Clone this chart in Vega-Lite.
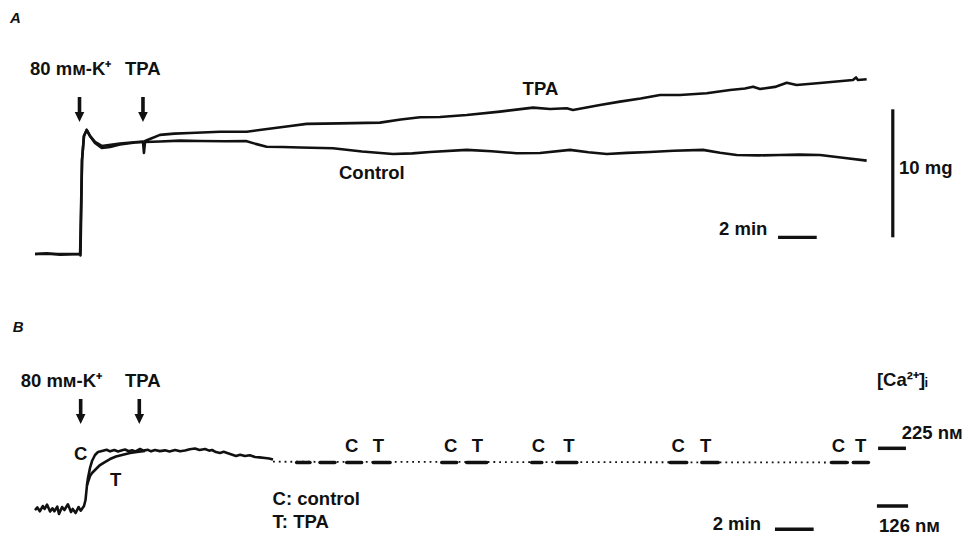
{
"$schema":"https://vega.github.io/schema/vega-lite/v6.json",
"width":968,"height":539,"padding":0,
"autosize":{"type":"none"},
"background":"#ffffff",
"config":{"view":{"stroke":null},"text":{"font":"Liberation Sans","fontSize":18.5,"fontWeight":"bold","color":"#111111"}},
"datasets":{
"aTraces":[
{"series":"Control","t":0,"v":0},{"series":"Control","t":0.6,"v":0.05},{"series":"Control","t":1.29,"v":-0.05},{"series":"Control","t":2.33,"v":0},{"series":"Control","t":2.35,"v":-0.12},{"series":"Control","t":2.43,"v":7.34},{"series":"Control","t":2.53,"v":9.22},{"series":"Control","t":2.67,"v":9.69},{"series":"Control","t":2.84,"v":9.22},{"series":"Control","t":3.10,"v":8.67},{"series":"Control","t":3.45,"v":8.28},{"series":"Control","t":3.88,"v":8.36},{"series":"Control","t":4.39,"v":8.55},{"series":"Control","t":5.17,"v":8.71},{"series":"Control","t":5.69,"v":8.75},{"series":"Control","t":6.46,"v":8.79},{"series":"Control","t":7.5,"v":8.85},{"series":"Control","t":8.53,"v":8.83},{"series":"Control","t":9.8,"v":8.8},{"series":"Control","t":10.90,"v":8.83},{"series":"Control","t":11.4,"v":8.6},{"series":"Control","t":11.97,"v":8.38},{"series":"Control","t":12.8,"v":8.36},{"series":"Control","t":13.70,"v":8.32},{"series":"Control","t":15.40,"v":8.26},{"series":"Control","t":16.9,"v":8.0},{"series":"Control","t":18.50,"v":7.81},{"series":"Control","t":19.5,"v":7.86},{"series":"Control","t":20.41,"v":7.97},{"series":"Control","t":22.31,"v":8.13},{"series":"Control","t":23.6,"v":8.02},{"series":"Control","t":24.89,"v":7.87},{"series":"Control","t":26.10,"v":7.89},{"series":"Control","t":27.65,"v":8.13},{"series":"Control","t":28.6,"v":7.95},{"series":"Control","t":29.55,"v":7.81},{"series":"Control","t":30.6,"v":7.9},{"series":"Control","t":31.78,"v":7.97},{"series":"Control","t":33.0,"v":8.06},{"series":"Control","t":34.52,"v":8.13},{"series":"Control","t":35.4,"v":7.9},{"series":"Control","t":36.26,"v":7.73},{"series":"Control","t":37.4,"v":7.7},{"series":"Control","t":38.50,"v":7.73},{"series":"Control","t":39.5,"v":7.76},{"series":"Control","t":40.57,"v":7.73},{"series":"Control","t":41.86,"v":7.5},{"series":"Control","t":42.98,"v":7.29},
{"series":"TPA","t":0,"v":0},{"series":"TPA","t":1.29,"v":0},{"series":"TPA","t":2.33,"v":0},{"series":"TPA","t":2.43,"v":7.34},{"series":"TPA","t":2.53,"v":9.22},{"series":"TPA","t":2.67,"v":9.69},{"series":"TPA","t":2.84,"v":9.22},{"series":"TPA","t":3.10,"v":8.75},{"series":"TPA","t":3.45,"v":8.44},{"series":"TPA","t":4.39,"v":8.63},{"series":"TPA","t":5.58,"v":8.79},{"series":"TPA","t":5.63,"v":7.89},{"series":"TPA","t":5.69,"v":8.83},{"series":"TPA","t":5.94,"v":8.98},{"series":"TPA","t":6.46,"v":9.30},{"series":"TPA","t":7.2,"v":9.4},{"series":"TPA","t":8.01,"v":9.45},{"series":"TPA","t":9.56,"v":9.55},{"series":"TPA","t":10.94,"v":9.55},{"series":"TPA","t":11.7,"v":9.7},{"series":"TPA","t":12.40,"v":9.84},{"series":"TPA","t":13.2,"v":10.0},{"series":"TPA","t":14.04,"v":10.16},{"series":"TPA","t":15.76,"v":10.20},{"series":"TPA","t":17.83,"v":10.26},{"series":"TPA","t":18.9,"v":10.5},{"series":"TPA","t":19.90,"v":10.68},{"series":"TPA","t":20.93,"v":10.70},{"series":"TPA","t":22.31,"v":10.86},{"series":"TPA","t":24.03,"v":11.12},{"series":"TPA","t":25.74,"v":11.43},{"series":"TPA","t":26.62,"v":11.33},{"series":"TPA","t":27.48,"v":11.38},{"series":"TPA","t":27.80,"v":11.25},{"series":"TPA","t":29.20,"v":11.64},{"series":"TPA","t":30.23,"v":11.90},{"series":"TPA","t":31.3,"v":12.15},{"series":"TPA","t":32.30,"v":12.42},{"series":"TPA","t":33.33,"v":12.42},{"series":"TPA","t":34.71,"v":12.55},{"series":"TPA","t":35.92,"v":12.81},{"series":"TPA","t":36.69,"v":12.93},{"series":"TPA","t":37.11,"v":13.07},{"series":"TPA","t":37.47,"v":12.89},{"series":"TPA","t":38.24,"v":13.05},{"series":"TPA","t":38.85,"v":13.38},{"series":"TPA","t":39.36,"v":13.20},{"series":"TPA","t":40.57,"v":13.36},{"series":"TPA","t":42.27,"v":13.59},{"series":"TPA","t":42.43,"v":13.79},{"series":"TPA","t":42.53,"v":13.59},{"series":"TPA","t":42.98,"v":13.65}
],
"aArrows":[{"t":2.30,"v":10.31},{"t":5.58,"v":10.31}],
"aBars":[{"t":38.40,"t2":40.40,"v":1.30,"v2":1.30},{"t":44.33,"t2":44.33,"v":1.30,"v2":11.30}],
"aTexts":[
{"label":"80 mм-K⁺","t":-0.26,"v":13.98},{"label":"TPA","t":4.65,"v":13.98},{"label":"TPA","t":25.20,"v":12.42},{"label":"Control","t":15.71,"v":5.84},{"label":"10 mg","t":44.65,"v":6.25},{"label":"2 min","t":35.35,"v":1.48}
],
"aPanel":[{"label":"A","t":-1.29,"v":18.05}],
"bTraces":[
{"series":"C","t":0,"v":119.1},{"series":"C","t":0.12,"v":123.5},{"series":"C","t":0.25,"v":117.0},{"series":"C","t":0.4,"v":126.0},{"series":"C","t":0.5,"v":121.0},{"series":"C","t":0.62,"v":128.5},{"series":"C","t":0.78,"v":116.5},{"series":"C","t":0.9,"v":122.0},{"series":"C","t":1.0,"v":117.0},{"series":"C","t":1.15,"v":125.0},{"series":"C","t":1.24,"v":112.3},{"series":"C","t":1.4,"v":124.3},{"series":"C","t":1.52,"v":119.1},{"series":"C","t":1.7,"v":129.0},{"series":"C","t":1.86,"v":115.7},{"series":"C","t":1.95,"v":121.0},{"series":"C","t":2.1,"v":114.0},{"series":"C","t":2.25,"v":124.3},{"series":"C","t":2.36,"v":118.0},{"series":"C","t":2.532,"v":126.0},{"series":"C","t":2.61,"v":136.3},{"series":"C","t":2.687,"v":162.0},{"series":"C","t":2.739,"v":174.0},{"series":"C","t":2.842,"v":191.2},{"series":"C","t":2.946,"v":203.2},{"series":"C","t":3.101,"v":213.5},{"series":"C","t":3.256,"v":218.7},{"series":"C","t":3.46,"v":220.4},{"series":"C","t":3.7,"v":222.5},{"series":"C","t":3.88,"v":219.8},{"series":"C","t":4.1,"v":222.0},{"series":"C","t":4.29,"v":219.5},{"series":"C","t":4.5,"v":221.8},{"series":"C","t":4.65,"v":222.9},{"series":"C","t":4.85,"v":220.0},{"series":"C","t":5.01,"v":221.5},{"series":"C","t":5.2,"v":219.6},{"series":"C","t":5.43,"v":223.8},{"series":"C","t":5.6,"v":221.0},{"series":"C","t":5.84,"v":222.4},{"series":"C","t":6.0,"v":219.8},{"series":"C","t":6.2,"v":222.1},{"series":"C","t":6.45,"v":220.2},{"series":"C","t":6.72,"v":221.5},{"series":"C","t":6.95,"v":219.5},{"series":"C","t":7.24,"v":222.1},{"series":"C","t":7.5,"v":220.0},{"series":"C","t":7.75,"v":221.4},{"series":"C","t":8.0,"v":223.5},{"series":"C","t":8.27,"v":224.7},{"series":"C","t":8.5,"v":222.0},{"series":"C","t":8.79,"v":223.8},{"series":"C","t":9.0,"v":221.0},{"series":"C","t":9.15,"v":222.1},{"series":"C","t":9.35,"v":218.5},{"series":"C","t":9.56,"v":216.9},{"series":"C","t":9.75,"v":219.0},{"series":"C","t":9.97,"v":216.5},{"series":"C","t":10.2,"v":214.0},{"series":"C","t":10.39,"v":211.8},{"series":"C","t":10.6,"v":214.0},{"series":"C","t":10.85,"v":211.8},{"series":"C","t":11.1,"v":213.0},{"series":"C","t":11.37,"v":210.1},{"series":"C","t":11.6,"v":209.5},{"series":"C","t":11.89,"v":208.4},{"series":"C","t":12.1,"v":207.5},{"series":"C","t":12.3,"v":205.8},
{"series":"T","t":2.687,"v":162.0},{"series":"T","t":2.842,"v":177.5},{"series":"T","t":2.946,"v":182.6},{"series":"T","t":3.152,"v":189.5},{"series":"T","t":3.359,"v":196.3},{"series":"T","t":3.566,"v":200.6},{"series":"T","t":3.876,"v":206.6},{"series":"T","t":4.186,"v":210.9},{"series":"T","t":4.496,"v":213.5},{"series":"T","t":4.91,"v":216.9},{"series":"T","t":5.271,"v":218.7},{"series":"T","t":5.685,"v":220.4}
],
"bDotted":[{"t":12.3,"v":202.0},{"t":42.95,"v":200.6}],
"bSegments":[
{"t":13.52,"t2":14.21,"v":200.6},{"t":14.73,"t2":15.50,"v":200.6},{"t":16.11,"t2":16.88,"v":200.6},{"t":17.48,"t2":18.35,"v":200.6},{"t":21.02,"t2":21.79,"v":200.6},{"t":22.31,"t2":23.34,"v":200.6},{"t":25.67,"t2":26.19,"v":200.6},{"t":26.96,"t2":28.00,"v":200.6},{"t":32.82,"t2":33.68,"v":200.6},{"t":34.46,"t2":35.31,"v":200.6},{"t":41.17,"t2":41.95,"v":200.6},{"t":42.29,"t2":43.07,"v":200.6}
],
"bArrows":[{"t":2.36,"v":266.7},{"t":5.39,"v":266.7}],
"bBars":[{"t":38.24,"t2":40.24,"v":86.0},{"t":43.57,"t2":45.01,"v":225.0},{"t":43.51,"t2":45.12,"v":126.0}],
"bTexts":[
{"label":"80 mм-K⁺","t":-0.74,"v":330.7},{"label":"TPA","t":4.65,"v":330.7},{"label":"[Ca²⁺]ᵢ","t":43.51,"v":331.9},
{"label":"C","t":2.02,"v":204.9},{"label":"T","t":3.88,"v":160.8},
{"label":"C","t":16.02,"v":219.2},{"label":"T","t":17.45,"v":219.2},{"label":"C","t":21.14,"v":219.2},{"label":"T","t":22.57,"v":219.2},{"label":"C","t":25.67,"v":219.2},{"label":"T","t":27.30,"v":219.2},{"label":"C","t":32.90,"v":219.2},{"label":"T","t":34.37,"v":219.2},{"label":"C","t":41.17,"v":219.2},{"label":"T","t":42.38,"v":219.2},
{"label":"C: control","t":12.28,"v":127.7},{"label":"T: TPA","t":12.28,"v":87.7},{"label":"2 min","t":35.02,"v":84.8},{"label":"225 nм","t":44.79,"v":240.4},{"label":"126 nм","t":43.62,"v":81.9}
],
"bPanel":[{"label":"B","t":-1.15,"v":425.1}]
},
"layer":[
{"layer":[
 {"data":{"name":"aTraces"},"mark":{"type":"line","color":"#111111","strokeWidth":2.6,"strokeJoin":"round"},
  "encoding":{"x":{"field":"t","type":"quantitative","scale":{"domain":[-1.809,48.217],"nice":false,"zero":false},"axis":null},
   "y":{"field":"v","type":"quantitative","scale":{"domain":[-22.27,19.84],"nice":false,"zero":false},"axis":null},
   "detail":{"field":"series"}}},
 {"data":{"name":"aArrows"},"mark":{"type":"point","shape":"M-0.18,-2.5L0.18,-2.5L0.18,-1L0.48,-1L0,0L-0.48,-1L-0.18,-1Z","size":400,"filled":true,"color":"#111111","opacity":1,"strokeWidth":0},
  "encoding":{"x":{"field":"t","type":"quantitative","axis":null},"y":{"field":"v","type":"quantitative","axis":null}}},
 {"data":{"name":"aBars"},"mark":{"type":"rule","color":"#111111","strokeWidth":3.2},
  "encoding":{"x":{"field":"t","type":"quantitative","axis":null},"x2":{"field":"t2"},"y":{"field":"v","type":"quantitative","axis":null},"y2":{"field":"v2"}}},
 {"data":{"name":"aTexts"},"mark":{"type":"text","align":"left","baseline":"alphabetic"},
  "encoding":{"x":{"field":"t","type":"quantitative","axis":null},"y":{"field":"v","type":"quantitative","axis":null},"text":{"field":"label"}}},
 {"data":{"name":"aPanel"},"mark":{"type":"text","align":"left","baseline":"alphabetic","fontStyle":"italic","fontSize":15},
  "encoding":{"x":{"field":"t","type":"quantitative","axis":null},"y":{"field":"v","type":"quantitative","axis":null},"text":{"field":"label"}}}
]},
{"layer":[
 {"data":{"name":"bDotted"},"mark":{"type":"line","color":"#111111","strokeWidth":1.8,"strokeDash":[1.8,4.0]},
  "encoding":{"x":{"field":"t","type":"quantitative","scale":{"domain":[-1.809,48.217],"nice":false,"zero":false},"axis":null},
   "y":{"field":"v","type":"quantitative","scale":{"domain":[69.4,994.2],"nice":false,"zero":false},"axis":null}}},
 {"data":{"name":"bTraces"},"mark":{"type":"line","color":"#111111","strokeWidth":2.6,"strokeJoin":"round"},
  "encoding":{"x":{"field":"t","type":"quantitative","axis":null},"y":{"field":"v","type":"quantitative","axis":null},"detail":{"field":"series"}}},
 {"data":{"name":"bSegments"},"mark":{"type":"rule","color":"#111111","strokeWidth":3.5,"strokeCap":"round"},
  "encoding":{"x":{"field":"t","type":"quantitative","axis":null},"x2":{"field":"t2"},"y":{"field":"v","type":"quantitative","axis":null}}},
 {"data":{"name":"bArrows"},"mark":{"type":"point","shape":"M-0.18,-2.5L0.18,-2.5L0.18,-1L0.48,-1L0,0L-0.48,-1L-0.18,-1Z","size":400,"filled":true,"color":"#111111","opacity":1,"strokeWidth":0},
  "encoding":{"x":{"field":"t","type":"quantitative","axis":null},"y":{"field":"v","type":"quantitative","axis":null}}},
 {"data":{"name":"bBars"},"mark":{"type":"rule","color":"#111111","strokeWidth":3.5},
  "encoding":{"x":{"field":"t","type":"quantitative","axis":null},"x2":{"field":"t2"},"y":{"field":"v","type":"quantitative","axis":null}}},
 {"data":{"name":"bTexts"},"mark":{"type":"text","align":"left","baseline":"alphabetic"},
  "encoding":{"x":{"field":"t","type":"quantitative","axis":null},"y":{"field":"v","type":"quantitative","axis":null},"text":{"field":"label"}}},
 {"data":{"name":"bPanel"},"mark":{"type":"text","align":"left","baseline":"alphabetic","fontStyle":"italic","fontSize":15},
  "encoding":{"x":{"field":"t","type":"quantitative","axis":null},"y":{"field":"v","type":"quantitative","axis":null},"text":{"field":"label"}}}
]}
],
"resolve":{"scale":{"y":"independent"}}
}
